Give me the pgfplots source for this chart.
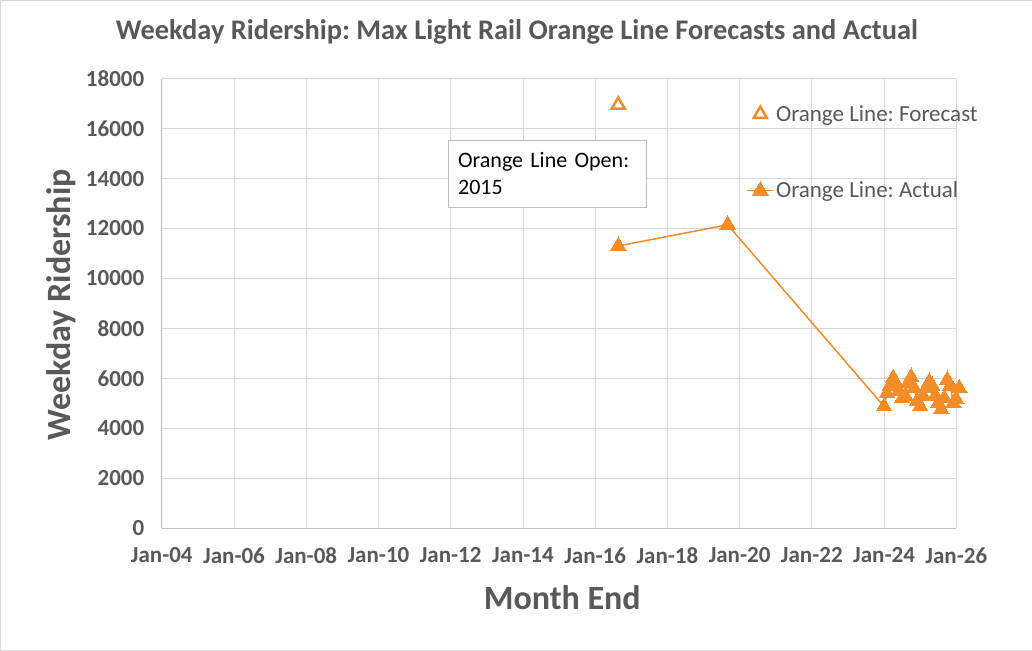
\documentclass[border=0pt]{standalone}
\usepackage{pgfplots}
\pgfplotsset{compat=1.18}
\usepackage{fontspec}
\setmainfont{Carlito}
\frenchspacing
\definecolor{txt}{HTML}{595959}
\definecolor{org}{RGB}{245,140,40}
\definecolor{grd}{HTML}{D9D9D9}
\definecolor{axl}{HTML}{BFBFBF}
\pgfplotsset{mylegimg/.style={legend image code/.code={\draw[mark repeat=2,mark phase=2,##1] plot coordinates {(0pt,0pt) (13pt,0pt) (26pt,0pt)};}}}
\begin{document}
\begin{tikzpicture}
\path[use as bounding box, draw=grd, fill=white] (-161.5pt,-122.5pt) rectangle (869.5pt,527.5pt);
\begin{axis}[
 at={(0,0)}, anchor=south west, scale only axis, width=794pt, height=449pt,
 xmin=2004, xmax=2026, ymin=0, ymax=18000,
 clip=false,
 scaled y ticks=false, scaled x ticks=false,
 axis lines=left, axis line style={-, draw=axl, line width=0.8pt},
 xtick={2004,2006,...,2026},
 xticklabels={Jan-04,Jan-06,Jan-08,Jan-10,Jan-12,Jan-14,Jan-16,Jan-18,Jan-20,Jan-22,Jan-24,Jan-26},
 ytick={0,2000,4000,6000,8000,10000,12000,14000,16000,18000},
 yticklabels={0,2000,4000,6000,8000,10000,12000,14000,16000,18000},
 major tick length=0pt,
 grid=major, major grid style={draw=grd, line width=0.8pt},
 xticklabel style={font=\fontsize{23}{27}\selectfont\bfseries, text=txt, yshift=-16pt},
 yticklabel style={font=\fontsize{23}{27}\selectfont\bfseries, text=txt, xshift=-14pt},
 title={Weekday Ridership: Max Light Rail Orange Line Forecasts and Actual},
 title style={at={(0.447,1)}, anchor=center, yshift=41pt, font=\fontsize{28.4}{32}\selectfont\bfseries, text=txt},
 xlabel={Month End},
 xlabel style={at={(axis description cs:0.504,-0.154)}, anchor=center, font=\fontsize{34}{40}\selectfont\bfseries, text=txt},
 ylabel={Weekday Ridership},
 ylabel style={at={(axis description cs:-0.126,0.497)}, anchor=center, rotate=0, font=\fontsize{34}{40}\selectfont\bfseries, text=txt},
 legend style={draw=none, fill=none, at={(0.732,0.95)}, anchor=north west, font=\fontsize{23}{27}\selectfont, text=txt, row sep=55pt},
 legend cell align=left,
 mylegimg,
]
\addplot[only marks, mark=triangle, mark size=7.5pt, mark options={draw=org, line width=2.5pt}]
 coordinates {(2016.64,16950)};
\addplot[draw=org, line width=1.5pt, mark=triangle*, mark size=9pt, mark options={fill=org, draw=org, line width=0pt}]
 coordinates {
 (2016.64,11300) (2019.67,12150)
 (2024.000,4870) (2024.083,5400) (2024.167,5700) (2024.250,6000) (2024.333,5800)
 (2024.417,5500) (2024.500,5200) (2024.583,5300) (2024.667,5800) (2024.750,6050)
 (2024.833,5600) (2024.917,5100) (2025.000,4870) (2025.083,5300) (2025.167,5600)
 (2025.250,5850) (2025.333,5700) (2025.417,5300) (2025.500,5000) (2025.583,4750)
 (2025.667,5200) (2025.750,5930) (2025.833,5700) (2025.917,5000) (2026.000,5150)
 (2026.083,5600)
 };
\legend{Orange Line: Forecast, Orange Line: Actual}
\node[draw=axl, fill=white, line width=0.8pt, anchor=north west, text width=178pt, align=left,
  inner xsep=10pt, inner ysep=8pt, minimum height=67pt, font=\fontsize{22}{27}\selectfont, text=black]
  at (axis cs:2011.917,15557) {Orange Line Open:\\2015};
\end{axis}
\end{tikzpicture}
\end{document}
